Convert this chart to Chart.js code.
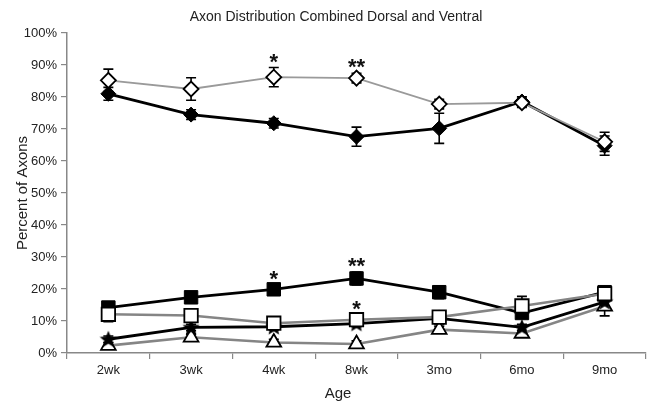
<!DOCTYPE html>
<html>
<head>
<meta charset="utf-8">
<script src="https://cdn.jsdelivr.net/npm/chart.js@4/dist/chart.umd.min.js"></script>
<style>
  html, body { margin: 0; padding: 0; background: #ffffff; }
  #wrap { width: 649px; height: 404px; position: relative; }
</style>
</head>
<body>
<div id="wrap"><canvas id="c" width="649" height="404"></canvas></div>
<script>
// ---- Data ----
const categories = ['2wk', '3wk', '4wk', '8wk', '3mo', '6mo', '9mo'];
const yTicks = [0, 10, 20, 30, 40, 50, 60, 70, 80, 90, 100];

const openDiamond   = [85.2, 82.5, 86.2, 85.9, 77.8, 78.2, 66.0];
const openDiamondErr = [3.5, 3.5, 3.0, 1.5, 1.5, 1.5, 3.0];
const filledDiamond = [81.0, 74.5, 71.8, 67.6, 70.2, 78.6, 64.8];
const filledDiamondErr = [2.0, 1.5, 1.5, 3.0, 4.7, 1.5, 3.0];
const openSquare    = [12.1, 11.7, 9.3, 10.4, 11.2, 14.7, 18.5];
const openSquareErr = [2.3, 1.5, 1.5, 1.5, 1.0, 3.0, 1.5];
const filledSquare  = [14.2, 17.4, 19.9, 23.3, 19.0, 12.5, 19.0];
const filledSquareErr = [1.0, 1.0, 1.5, 2.0, 2.0, 1.5, 1.5];
const filledStar    = [4.3, 8.0, 8.2, 9.2, 10.8, 8.0, 16.0];
const filledStarErr = [1.0, 1.0, 1.0, 1.0, 1.0, 1.0, 1.5];
const openTriangle  = [2.3, 4.9, 3.3, 2.8, 7.3, 6.1, 14.6];
const openTriangleErr = [1.0, 1.0, 1.0, 1.0, 1.0, 1.0, 3.0];

// significance marks: [dataset index, category index, text]
const sigMarks = [
  [0, 2, '*'],
  [0, 3, '**'],
  [3, 2, '*'],
  [3, 3, '**'],
  [2, 3, '*']
];

const titleText = 'Axon Distribution Combined Dorsal and Ventral';
const xTitle = 'Age';
const yTitle = 'Percent of Axons';

// ---- custom filled star marker ----
function makeStar(size) {
  const cv = document.createElement('canvas');
  cv.width = size; cv.height = size;
  const g = cv.getContext('2d');
  const cx = size / 2, cy = size / 2 + 0.5, R = size / 2, r = R * 0.45;
  g.beginPath();
  for (let i = 0; i < 10; i++) {
    const ang = -Math.PI / 2 + i * Math.PI / 5;
    const rad = (i % 2 === 0) ? R : r;
    const px = cx + Math.cos(ang) * rad, py = cy + Math.sin(ang) * rad;
    if (i === 0) g.moveTo(px, py); else g.lineTo(px, py);
  }
  g.closePath();
  g.fillStyle = '#000';
  g.fill();
  return cv;
}
const starImg = makeStar(18);

const FONT = '"Liberation Sans", Arial, Helvetica, sans-serif';

const errorBars = {
  id: 'errorBars',
  beforeDatasetsDraw(chart) {
    const ctx = chart.ctx;
    const y = chart.scales.y;
    ctx.save();
    ctx.strokeStyle = '#000';
    ctx.lineWidth = 1.6;
    chart.data.datasets.forEach((ds, di) => {
      const meta = chart.getDatasetMeta(di);
      meta.data.forEach((pt, i) => {
        const v = ds.data[i], e = ds.err[i];
        const x = pt.x;
        const yt = y.getPixelForValue(v + e), yb = y.getPixelForValue(v - e);
        ctx.beginPath();
        ctx.moveTo(x, yt); ctx.lineTo(x, yb);
        ctx.moveTo(x - 5, yt); ctx.lineTo(x + 5, yt);
        ctx.moveTo(x - 5, yb); ctx.lineTo(x + 5, yb);
        ctx.stroke();
      });
    });
    ctx.restore();
  },
  afterDatasetsDraw(chart) {
    const ctx = chart.ctx;
    const y = chart.scales.y;
    ctx.save();
    ctx.fillStyle = '#111';
    ctx.font = 'bold 22px ' + FONT;
    ctx.textAlign = 'center';
    ctx.textBaseline = 'alphabetic';
    sigMarks.forEach(([di, i, t]) => {
      const ds = chart.data.datasets[di];
      const pt = chart.getDatasetMeta(di).data[i];
      const yt = y.getPixelForValue(ds.data[i] + ds.err[i]);
      ctx.fillText(t, pt.x, yt + 1);
    });
    // texts
    ctx.fillStyle = '#222';
    ctx.font = '14px ' + FONT;
    ctx.textBaseline = 'middle';
    ctx.fillText(titleText, 336, 17);
    ctx.font = '15px ' + FONT;
    ctx.fillText(xTitle, 338, 394);
    ctx.translate(23, 193);
    ctx.rotate(-Math.PI / 2);
    ctx.fillText(yTitle, 0, 0);
    ctx.restore();
  }
};

function ds(label, data, err, opts) {
  return Object.assign({ label, data, err, pointHoverRadius: 0 }, opts);
}

const datasets = [
  ds('Open diamond', openDiamond, openDiamondErr, {
    borderColor: '#9a9a9a', borderWidth: 1.8,
    pointStyle: 'rectRot', pointRadius: 7.5,
    pointBackgroundColor: '#fff', pointBorderColor: '#000', pointBorderWidth: 1.8
  }),
  ds('Filled diamond', filledDiamond, filledDiamondErr, {
    borderColor: '#000', borderWidth: 2.8,
    pointStyle: 'rectRot', pointRadius: 7.5,
    pointBackgroundColor: '#000', pointBorderColor: '#000', pointBorderWidth: 1
  }),
  ds('Open square', openSquare, openSquareErr, {
    borderColor: '#858585', borderWidth: 2.6,
    pointStyle: 'rect', pointRadius: 9.5,
    pointBackgroundColor: '#fff', pointBorderColor: '#000', pointBorderWidth: 1.8
  }),
  ds('Filled square', filledSquare, filledSquareErr, {
    borderColor: '#000', borderWidth: 2.8,
    pointStyle: 'rect', pointRadius: 9.5,
    pointBackgroundColor: '#000', pointBorderColor: '#000', pointBorderWidth: 1
  }),
  ds('Filled star', filledStar, filledStarErr, {
    borderColor: '#000', borderWidth: 2.8,
    pointStyle: starImg, pointRadius: 8,
    pointBackgroundColor: '#000', pointBorderColor: '#000'
  }),
  ds('Open triangle', openTriangle, openTriangleErr, {
    borderColor: '#858585', borderWidth: 2.6,
    pointStyle: 'triangle', pointRadius: 8.5,
    pointBackgroundColor: '#fff', pointBorderColor: '#000', pointBorderWidth: 1.8
  })
];

new Chart(document.getElementById('c'), {
  type: 'line',
  data: { labels: categories, datasets },
  options: {
    responsive: false,
    animation: false,
    devicePixelRatio: 1,
    layout: { autoPadding: false, padding: { top: 33, right: 3, bottom: 0, left: 0 } },
    plugins: { legend: { display: false }, title: { display: false }, tooltip: { enabled: false } },
    elements: { line: { tension: 0 } },
    scales: {
      x: {
        offset: true,
        grid: { offset: true, drawOnChartArea: false, drawTicks: true, tickLength: 6, color: '#888', lineWidth: 1.2 },
        border: { color: '#888', width: 1.5 },
        ticks: { color: '#222', font: { family: FONT, size: 13 }, padding: 4, maxRotation: 0 },
        afterFit(s) { s.height = 404 - 353; s.paddingLeft = 0; s.paddingRight = 0; }
      },
      y: {
        min: 0, max: 100,
        afterBuildTicks(s) { s.ticks = yTicks.map(v => ({ value: v })); },
        grid: { drawOnChartArea: false, drawTicks: true, tickLength: 6, color: '#888', lineWidth: 1.2 },
        border: { color: '#888', width: 1.5 },
        ticks: { color: '#222', font: { family: FONT, size: 13 }, padding: 4,
                 callback: v => v + '%' },
        afterFit(s) { s.width = 67; s.paddingTop = 0; s.paddingBottom = 0; }
      }
    }
  },
  plugins: [errorBars]
});
</script>
</body>
</html>
